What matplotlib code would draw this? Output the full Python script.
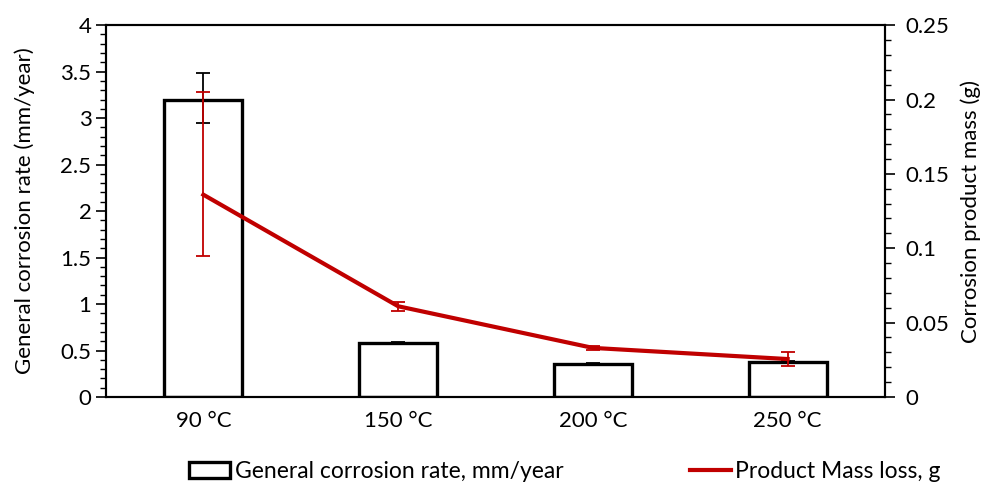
import matplotlib
matplotlib.use("Agg")
import matplotlib.pyplot as plt
from matplotlib.ticker import MultipleLocator
import numpy as np

plt.rcParams["font.family"] = ["Lato", "DejaVu Sans"]

temperatures = ["90 °C", "150 °C", "200 °C", "250 °C"]
corrosion_rate = [3.19, 0.58, 0.355, 0.375]
corrosion_rate_err_low = [0.24, 0.01, 0.01, 0.01]
corrosion_rate_err_high = [0.29, 0.01, 0.01, 0.01]
mass_loss = [0.136, 0.061, 0.033, 0.0255]
mass_loss_err_low = [0.041, 0.003, 0.0015, 0.0045]
mass_loss_err_high = [0.069, 0.003, 0.0015, 0.0045]

RED = "#C00000"

fig = plt.figure(figsize=(10, 4.88), dpi=100)
ax = fig.add_axes([0.106, 0.1865, 0.779, 0.762])
x = np.arange(len(temperatures))

bars = ax.bar(x, corrosion_rate, width=0.4, facecolor="white", edgecolor="black",
              linewidth=2.4, label="General corrosion rate, mm/year", zorder=2)
ax.errorbar(x, corrosion_rate, yerr=[corrosion_rate_err_low, corrosion_rate_err_high],
            fmt="none", ecolor="black", elinewidth=1.3, capsize=5, capthick=1.3, zorder=3)

ax.set_xlim(-0.5, 3.5)
ax.set_ylim(0, 4)
ax.set_xticks(x)
ax.set_xticklabels(temperatures)
ax.yaxis.set_minor_locator(MultipleLocator(0.1))
ax.set_yticks([0, 0.5, 1, 1.5, 2, 2.5, 3, 3.5, 4])
ax.set_yticklabels(["0", "0.5", "1", "1.5", "2", "2.5", "3", "3.5", "4"])
ax.tick_params(axis="x", length=0, labelsize=16, pad=10)
ax.tick_params(axis="y", which="major", length=7, width=1.2, labelsize=16)
ax.tick_params(axis="y", which="minor", length=4, width=1.0)
ax.set_ylabel("General corrosion rate (mm/year)", fontsize=16, labelpad=18)
for side in ["left", "right", "top", "bottom"]:
    ax.spines[side].set_linewidth(1.5)

ax2 = ax.twinx()
ax2.errorbar(x, mass_loss, yerr=[mass_loss_err_low, mass_loss_err_high], fmt="none",
             ecolor=RED, elinewidth=1.3, capsize=5, capthick=1.3, zorder=3)
line, = ax2.plot(x, mass_loss, color=RED, linewidth=3, label="Product Mass loss, g", zorder=4)
ax2.set_ylim(0, 0.25)
ax2.set_yticks([0, 0.05, 0.1, 0.15, 0.2, 0.25])
ax2.set_yticklabels(["0", "0.05", "0.1", "0.15", "0.2", "0.25"])
ax2.yaxis.set_minor_locator(MultipleLocator(0.01))
ax2.tick_params(axis="y", which="major", length=7, width=1.2, labelsize=16, pad=8)
ax2.tick_params(axis="y", which="minor", length=4, width=1.0)
ax2.set_ylabel("Corrosion product mass (g)", fontsize=16, labelpad=8)
for side in ["left", "right", "top", "bottom"]:
    ax2.spines[side].set_linewidth(1.5)

fig.legend([bars, line], ["General corrosion rate, mm/year", "Product Mass loss, g"],
           loc="lower center", bbox_to_anchor=(0.565, -0.03), ncol=2, frameon=False,
           fontsize=16.5, columnspacing=5.5, handlelength=1.8, handletextpad=0.2)

fig.savefig("out.png", dpi=100)
